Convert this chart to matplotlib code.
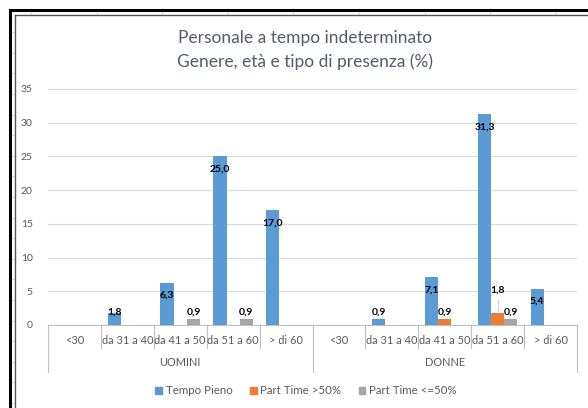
#! /usr/bin/env python3
'''Personale a tempo indeterminato: bars by gender, age and presence type.'''

import numpy as np
import matplotlib
matplotlib.use('Agg')
import matplotlib.pyplot as plt
from matplotlib.lines import Line2D
from matplotlib.patches import Patch

plt.rcParams['font.family'] = ['Lato', 'DejaVu Sans']

# data
ages = ['<30', 'da 31 a 40', 'da 41 a 50', 'da 51 a 60', '> di 60']
groups = ['UOMINI', 'DONNE']
series_names = ['Tempo Pieno', 'Part Time >50%', 'Part Time <=50%']
tempo_pieno = [0, 1.8, 6.3, 25.0, 17.0, 0, 0.9, 7.1, 31.3, 5.4]
pt_oltre50 = [0, 0, 0, 0, 0, 0, 0, 0.9, 1.8, 0]
pt_fino50 = [0, 0, 0.9, 0.9, 0, 0, 0, 0, 0.9, 0]
yticks = [0, 5, 10, 15, 20, 25, 30, 35]

colors = ['#5B9BD5', '#ED7D31', '#A5A5A5']
W, H = 588, 408


def fx(px):
    return px / W


def fy(py):
    return 1 - py / H


fig = plt.figure(figsize=(W / 100, H / 100), dpi=100)

# spreadsheet background and chart frame
for x in np.arange(31, 590, 65.6):
    fig.add_artist(Line2D([fx(x), fx(x)], [fy(11), fy(15)], color='#DDDDDD', lw=0.7))
for y in np.arange(403, 15, -20.6):
    fig.add_artist(Line2D([fx(11), fx(15)], [fy(y), fy(y)], color='#DDDDDD', lw=0.7))
fig.add_artist(Line2D([fx(9.5), fx(9.5)], [fy(9.5), 0], color='black', lw=2.2))
fig.add_artist(Line2D([fx(9.5), 1], [fy(9.5), fy(9.5)], color='black', lw=2.2))
fig.add_artist(Line2D([fx(15), fx(15)], [fy(15), 0], color='#555555', lw=1.0))
fig.add_artist(Line2D([fx(15), 1], [fy(15), fy(15)], color='#555555', lw=1.0))

ax = fig.add_axes([fx(48), fy(325), fx(577) - fx(48), fy(89) - fy(325)])
n = len(tempo_pieno)
x = np.arange(n)
bw = 0.25
all_series = [tempo_pieno, pt_oltre50, pt_fino50]

for i, (vals, c) in enumerate(zip(all_series, colors)):
    xs = x + (i - 1) * bw
    ax.bar(xs, vals, width=bw, color=c, zorder=3)
    for xi, v in zip(xs, vals):
        if v == 0:
            continue
        ly = max(v - 1.93, 1.93)
        if i == 1 and v == 1.8:
            ly = 5.2
            ax.plot([xi, xi], [v, 3.7], color='#C9D3E0', lw=0.8, zorder=2)
        ax.text(xi, ly, f'{v:.1f}'.replace('.', ','), ha='center', va='center',
                fontsize=7.5, fontweight='bold', color='black', zorder=4)

ax.set_xlim(-0.5, n - 0.5)
ax.set_ylim(0, 35)
ax.set_yticks(yticks)
ax.tick_params(axis='y', length=0, labelsize=7.5, labelcolor='#595959', pad=11)
ax.yaxis.grid(True, color='#D9D9D9', lw=0.8, zorder=0)
for s in ['top', 'right', 'left']:
    ax.spines[s].set_visible(False)
ax.spines['bottom'].set_color('#BFBFBF')
ax.spines['bottom'].set_linewidth(0.8)
ax.set_xticks([])

# category axis
tr = ax.get_xaxis_transform()
dy = 1 / (325 - 89)
for k in range(n):
    ax.text(k, -15 * dy, ages[k % 5], transform=tr, ha='center', va='center',
            fontsize=7.9, color='#595959')
for k in range(n + 1):
    bottom = -47 * dy if k % 5 == 0 else -23 * dy
    ax.plot([k - 0.5, k - 0.5], [0, bottom], transform=tr, color='#BFBFBF',
            lw=0.8, clip_on=False)
for g, name in enumerate(groups):
    ax.text(g * 5 + 2, -38 * dy, name, transform=tr, ha='center', va='center',
            fontsize=7.9, color='#595959')

fig.text(fx(305), fy(38), 'Personale a tempo indeterminato', ha='center',
         va='center', fontsize=12.5, color='#525C6B')
fig.text(fx(305), fy(62), 'Genere, età e tipo di presenza (%)', ha='center',
         va='center', fontsize=12.5, color='#525C6B')

handles = [Patch(color=c, label=s) for c, s in zip(colors, series_names)]
fig.legend(handles=handles, loc='center', bbox_to_anchor=(fx(306), fy(391)),
           ncol=3, frameon=False, fontsize=8.3, handlelength=0.6,
           handleheight=0.6, handletextpad=0.3, columnspacing=1.5,
           labelcolor='#595959')

fig.savefig('out.png', dpi=100)
